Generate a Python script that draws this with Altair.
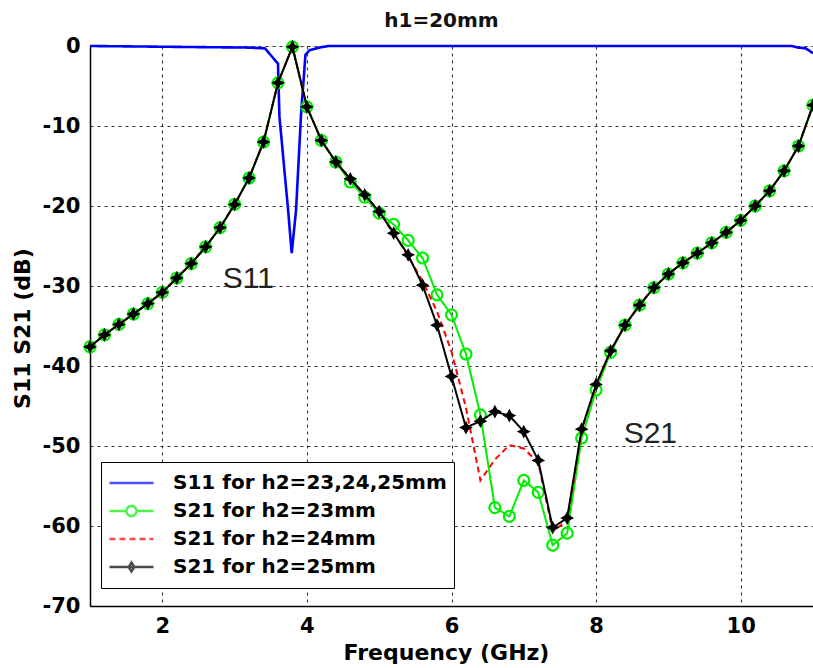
import altair as alt
import pandas as pd

# ---------------- data ----------------
freq = [1.0, 1.2, 1.4, 1.6, 1.8, 2.0, 2.2, 2.4, 2.6, 2.8,
        3.0, 3.2, 3.4, 3.6, 3.8, 4.0, 4.2, 4.4, 4.6, 4.8,
        5.0, 5.2, 5.4, 5.6, 5.8, 6.0, 6.2, 6.4, 6.6, 6.8,
        7.0, 7.2, 7.4, 7.6, 7.8, 8.0, 8.2, 8.4, 8.6, 8.8,
        9.0, 9.2, 9.4, 9.6, 9.8, 10.0, 10.2, 10.4, 10.6, 10.8, 11.0]

s21_h23 = [-37.6, -36.1, -34.8, -33.5, -32.2, -30.8, -29.0, -27.2, -25.1, -22.7,
           -19.8, -16.5, -12.0, -4.6, -0.1, -7.6, -11.8, -14.5, -17.0, -18.9,
           -20.9, -22.3, -24.3, -26.5, -31.1, -33.6, -38.5, -46.1, -57.7, -58.8,
           -54.3, -55.8, -62.4, -60.9, -49.0, -43.0, -38.3, -34.9, -32.4, -30.2,
           -28.5, -27.1, -25.9, -24.6, -23.3, -21.8, -20.0, -18.1, -15.6, -12.5, -7.4]

s21_h24 = [-37.6, -36.1, -34.8, -33.5, -32.2, -30.8, -29.0, -27.2, -25.1, -22.7,
           -19.8, -16.5, -12.0, -4.6, -0.1, -7.6, -11.8, -14.5, -16.6, -18.6,
           -20.7, -23.3, -26.3, -29.4, -33.2, -38.2, -45.2, -54.3, -51.7, -49.9,
           -50.3, -52.1, -60.6, -59.4, -48.0, -42.4, -38.1, -34.9, -32.4, -30.2,
           -28.5, -27.1, -25.9, -24.6, -23.3, -21.8, -20.0, -18.1, -15.6, -12.5, -7.4]

s21_h25 = [-37.6, -36.1, -34.8, -33.5, -32.2, -30.8, -29.0, -27.2, -25.1, -22.7,
           -19.8, -16.5, -12.0, -4.6, -0.1, -7.6, -11.8, -14.5, -16.6, -18.6,
           -20.7, -23.4, -26.1, -29.9, -34.9, -41.3, -47.7, -46.9, -45.7, -46.2,
           -48.2, -51.8, -60.2, -59.0, -47.9, -42.3, -38.1, -34.9, -32.4, -30.2,
           -28.5, -27.1, -25.9, -24.6, -23.3, -21.8, -20.0, -18.1, -15.6, -12.5, -7.4]

s11_freq = [1.0, 3.2, 3.42, 3.6, 3.62, 3.74, 3.79, 3.85, 3.92, 3.98, 4.04, 4.17, 4.3,
            10.7, 10.8, 10.9, 11.0]
s11_db = [0.0, -0.2, -0.3, -2.2, -8.8, -20.5, -25.9, -20.5, -8.4, -1.1, -0.5, -0.2, 0.0,
          0.0, -0.2, -0.3, -0.9]

series_names = ["S11 for h2=23,24,25mm", "S21 for h2=23mm",
                "S21 for h2=24mm", "S21 for h2=25mm"]
series_colors = ["#0000ff", "#00ee00", "#ff0000", "#000000"]
series_dash = [[1, 0], [1, 0], [6, 4], [1, 0]]
legend_shapes = [
    "M-1,0H1",
    "M-1,0H-0.23M0.23,0H1M0.23,0A0.23,0.23 0 1,1 -0.23,0A0.23,0.23 0 1,1 0.23,0",
    "M-1,0H1",
    "M-1,0H1M0,-0.2L0.13,0L0,0.2L-0.13,0Z",
]
star_path = "M0,-1L0.35,-0.35L1,0L0.35,0.35L0,1L-0.35,0.35L-1,0L-0.35,-0.35Z"

ann_text = ["S11", "S21"]
ann_f = [3.19, 8.75]
ann_db = [-29.1, -48.5]

title_text = "h1=20mm"
x_ticks = [2, 4, 6, 8, 10]
y_ticks = [-70, -60, -50, -40, -30, -20, -10, 0]


def frame(xs, ys, name):
    return pd.DataFrame({"f": xs, "db": ys, "series": name})


df_s11 = frame(s11_freq, s11_db, series_names[0])
df_23 = frame(freq, s21_h23, series_names[1])
df_24 = frame(freq, s21_h24, series_names[2])
df_25 = frame(freq, s21_h25, series_names[3])
df_all = pd.concat([df_s11, df_23, df_24, df_25], ignore_index=True)
df_ann = pd.DataFrame({"f": ann_f, "db": ann_db, "label": ann_text})

FONT = "DejaVu Sans"

x_scale = alt.Scale(domain=[1, 11], nice=False, zero=False)
y_scale = alt.Scale(domain=[-70, 0], nice=False, zero=False)
color_scale = alt.Scale(domain=series_names, range=series_colors)
dash_scale = alt.Scale(domain=series_names, range=series_dash)
shape_scale = alt.Scale(domain=series_names, range=legend_shapes)

x_axis = alt.Axis(values=x_ticks, labelExpr="toString(datum.value)",
                  grid=True, gridDash=[3, 4],
                  gridColor="#333333", gridWidth=1.1, ticks=False,
                  labelFont=FONT, labelFontSize=21, labelFontWeight="bold",
                  labelPadding=9, labelColor="black",
                  title="Frequency (GHz)", titleFont=FONT, titleFontSize=22,
                  titleFontWeight="bold", titleColor="black",
                  titleX=356, titleY=53, titleAlign="center",
                  titleBaseline="alphabetic",
                  domainColor="black", domainWidth=1.5)
y_axis = alt.Axis(values=y_ticks, labelExpr="toString(datum.value)",
                  grid=True, gridDash=[3, 4],
                  gridColor="#333333", gridWidth=1.1, ticks=False,
                  labelFont=FONT, labelFontSize=21, labelFontWeight="bold",
                  labelPadding=10, labelColor="black",
                  title="S11  S21 (dB)", titleFont=FONT, titleFontSize=22,
                  titleFontWeight="bold", titleColor="black",
                  titleAngle=270, titleX=-68, titleY=282, titleAlign="center",
                  titleBaseline="middle",
                  domainColor="black", domainWidth=1.5)

legend = alt.Legend(title=None, orient="none", legendX=11, legendY=416,
                    direction="vertical", fillColor="white", strokeColor="black",
                    padding=7, labelFont=FONT, labelFontWeight="bold",
                    labelFontSize=20, labelColor="black", labelLimit=500,
                    symbolSize=1936, symbolStrokeWidth=2.5, clipHeight=28,
                    rowPadding=0, labelOffset=18, symbolOffset=0,
                    cornerRadius=0)

X = alt.X("f:Q", scale=x_scale, axis=x_axis)
Y = alt.Y("db:Q", scale=y_scale, axis=y_axis)


def line_layer(df, width):
    return alt.Chart(df).mark_line(strokeWidth=width).encode(
        x=X, y=Y,
        color=alt.Color("series:N", scale=color_scale, legend=legend),
        strokeDash=alt.StrokeDash("series:N", scale=dash_scale, legend=legend),
    )


legend_layer = alt.Chart(df_all).transform_filter("false").mark_point(
    filled=False).encode(
    x=X, y=Y,
    shape=alt.Shape("series:N", scale=shape_scale, legend=legend),
)

green_pts = alt.Chart(df_23).mark_point(
    shape="circle", filled=False, color="#00ee00", size=120, strokeWidth=2.2,
    opacity=1).encode(x=X, y=Y)
black_pts = alt.Chart(df_25).mark_point(
    shape=star_path, filled=True, color="black", size=190, opacity=1
).encode(x=X, y=Y)

ann = alt.Chart(df_ann).mark_text(
    font="Liberation Sans", fontSize=30, color="#222222",
    align="center", baseline="middle").encode(x=X, y=Y, text="label:N")

chart = alt.layer(
    line_layer(df_s11, 2.6),
    line_layer(df_23, 2),
    green_pts,
    line_layer(df_24, 2),
    line_layer(df_25, 2),
    black_pts,
    ann,
    legend_layer,
).properties(
    width=723, height=560,
    title=alt.TitleParams(title_text, font=FONT, fontSize=20,
                          fontWeight="bold", color="#111111",
                          anchor="middle", offset=4, dx=-10),
    padding={"left": 90, "top": 46, "right": 0, "bottom": 62},
    autosize=alt.AutoSizeParams(type="none"),
).configure_view(stroke="black", strokeWidth=1.5).configure(background="white")

chart.save("out.html", embed_options={"renderer": "svg", "actions": False})
